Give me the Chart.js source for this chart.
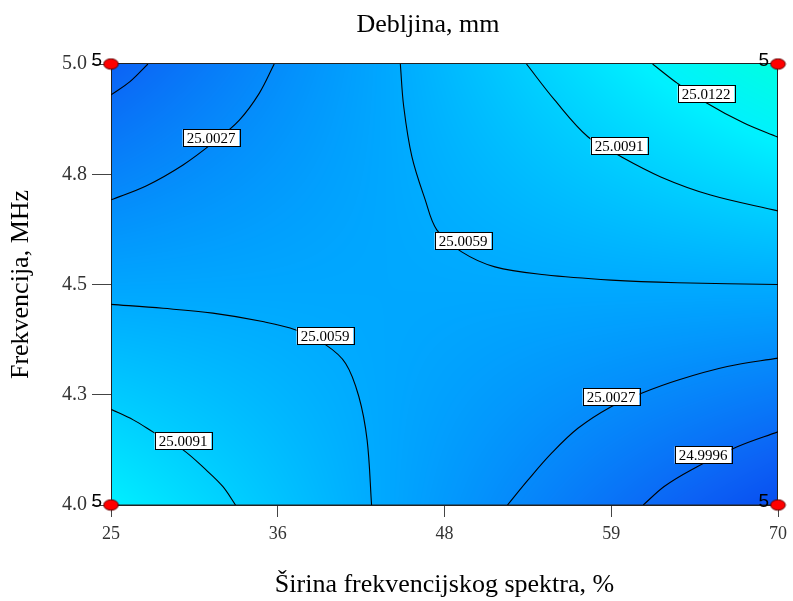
<!DOCTYPE html>
<html lang="hr">
<head>
<meta charset="utf-8" />
<title>Debljina, mm</title>
<script src="https://cdn.jsdelivr.net/npm/chart.js@4.4.1/dist/chart.umd.min.js"></script>
<style>
  html, body { margin: 0; padding: 0; background: #fff; }
</style>
</head>
<body>
<canvas id="myChart" width="793" height="601"></canvas>
<script>
// axis ticks
const xTicks = [25, 36.25, 47.5, 58.75, 70];
const xTickLabels = ['25', '36', '48', '59', '70'];
const yTicks = [4.0, 4.25, 4.5, 4.75, 5.0];
const yTickLabels = ['4.0', '4.3', '4.5', '4.8', '5.0'];

// design points (4 corners, 5 runs each)
const designX = [25, 70, 25, 70];
const designY = [4.0, 4.0, 5.0, 5.0];
const designRuns = [5, 5, 5, 5];

// predicted thickness at (25,4.0), (70,4.0), (25,5.0), (70,5.0)
const cornerValues = [25.0117, 24.9965, 24.9987, 25.0151];

// colour ramp for the surface
const rampValues = [24.9965, 24.9987, 25.0055, 25.0117, 25.0151];
const rampColors = [[8, 78, 240], [12, 98, 245], [0, 168, 255], [0, 240, 255], [0, 255, 225]];

// contour lines
const tl9996X = [25, 26.28, 27.49];
const tl9996Y = [4.930, 4.960, 5.0];
const up0027X = [25, 27.40, 29.86, 31.87, 33.66, 35.01, 36.01];
const up0027Y = [4.692, 4.724, 4.771, 4.821, 4.873, 4.934, 5.0];
const up0059X = [44.52, 44.75, 45.30, 46.20, 46.98, 48.66, 50.90, 54.26, 58.74, 63.22, 70];
const up0059Y = [5.0, 4.903, 4.790, 4.692, 4.624, 4.574, 4.540, 4.522, 4.510, 4.504, 4.500];
const up0091X = [53.03, 54.94, 57.17, 59.19, 62.09, 65.45, 70];
const up0091Y = [5.0, 4.918, 4.835, 4.794, 4.744, 4.703, 4.667];
const up0122X = [61.54, 63.22, 65.01, 67.70, 70];
const up0122Y = [5.0, 4.956, 4.915, 4.866, 4.834];
const lo0059X = [25, 28.51, 31.87, 35.23, 37.47, 39.49, 40.83, 41.72, 42.28, 42.58];
const lo0059Y = [4.455, 4.446, 4.435, 4.416, 4.397, 4.363, 4.321, 4.246, 4.147, 4.0];
const lo0091X = [25, 26.50, 27.96, 29.86, 31.43, 32.54, 33.40];
const lo0091Y = [4.217, 4.193, 4.163, 4.125, 4.079, 4.042, 4.0];
const lo0027X = [51.75, 53.14, 54.71, 56.50, 58.74, 60.75, 63.22, 66.58, 70];
const lo0027Y = [4.0, 4.057, 4.117, 4.174, 4.223, 4.253, 4.283, 4.314, 4.333];
const lo9996X = [60.91, 62.32, 64.11, 67.25, 70];
const lo9996Y = [4.0, 4.042, 4.079, 4.132, 4.166];

// contour labels
const labelText = ['25.0027', '25.0059', '25.0091', '25.0122', '25.0059', '25.0091', '25.0027', '24.9996'];
const labelX = [31.75, 48.78, 59.29, 65.13, 39.47, 29.84, 58.75, 64.93];
const labelY = [4.832, 4.598, 4.813, 4.933, 4.383, 4.145, 4.244, 4.113];

const serif = '"Liberation Serif", "Times New Roman", serif';

const contourLines = [
	[tl9996X, tl9996Y], [up0027X, up0027Y], [up0059X, up0059Y], [up0091X, up0091Y],
	[up0122X, up0122Y], [lo0059X, lo0059Y], [lo0091X, lo0091Y], [lo0027X, lo0027Y],
	[lo9996X, lo9996Y]
];

function rampColor(val) {
	if (val <= rampValues[0]) return rampColors[0];
	for (let i = 1; i < rampValues.length; i++) {
		if (val <= rampValues[i]) {
			const t = (val - rampValues[i - 1]) / (rampValues[i] - rampValues[i - 1]);
			const a = rampColors[i - 1], b = rampColors[i];
			return [a[0] + (b[0] - a[0]) * t, a[1] + (b[1] - a[1]) * t, a[2] + (b[2] - a[2]) * t];
		}
	}
	return rampColors[rampColors.length - 1];
}

// red ellipse used for the design points
function makeDot() {
	const c = document.createElement('canvas');
	c.width = 17; c.height = 13;
	const g = c.getContext('2d');
	g.beginPath();
	g.ellipse(8.5, 6.5, 7.3, 5.2, 0, 0, Math.PI * 2);
	g.fillStyle = '#ff0000';
	g.fill();
	g.lineWidth = 1;
	g.strokeStyle = '#5a0000';
	g.stroke();
	return c;
}

// fills the plot area with the response surface and draws the frame
const surfacePlugin = {
	id: 'surface',
	beforeDatasetsDraw(chart) {
		const {ctx, chartArea: a, scales} = chart;
		const w = Math.round(a.right - a.left), h = Math.round(a.bottom - a.top);
		const off = document.createElement('canvas');
		off.width = w; off.height = h;
		const octx = off.getContext('2d');
		const img = octx.createImageData(w, h);
		const x0 = scales.x.min, x1 = scales.x.max, y0 = scales.y.min, y1 = scales.y.max;
		for (let j = 0; j < h; j++) {
			const v = (scales.y.getValueForPixel(a.top + j + 0.5) - y0) / (y1 - y0);
			for (let i = 0; i < w; i++) {
				const u = (scales.x.getValueForPixel(a.left + i + 0.5) - x0) / (x1 - x0);
				const val = cornerValues[0] * (1 - u) * (1 - v) + cornerValues[1] * u * (1 - v) +
					cornerValues[2] * (1 - u) * v + cornerValues[3] * u * v;
				const c = rampColor(val);
				const k = (j * w + i) * 4;
				img.data[k] = c[0]; img.data[k + 1] = c[1]; img.data[k + 2] = c[2]; img.data[k + 3] = 255;
			}
		}
		octx.putImageData(img, 0, 0);
		ctx.save();
		ctx.drawImage(off, a.left, a.top);
		ctx.strokeStyle = '#222';
		ctx.lineWidth = 1;
		ctx.strokeRect(Math.round(a.left) + 0.5, Math.round(a.top) - 0.5, w - 1, h + 0.5);
		ctx.restore();
	}
};

// boxed contour values and run counts
const labelsPlugin = {
	id: 'labels',
	afterDatasetsDraw(chart) {
		const {ctx, scales} = chart;
		ctx.save();
		ctx.font = '15px ' + serif;
		ctx.textAlign = 'center';
		ctx.textBaseline = 'middle';
		labelText.forEach((t, i) => {
			const px = Math.round(scales.x.getPixelForValue(labelX[i]));
			const py = Math.round(scales.y.getPixelForValue(labelY[i]));
			const tw = ctx.measureText(t).width + 8;
			ctx.fillStyle = '#fff';
			ctx.fillRect(px - tw / 2, py - 8.5, tw, 17);
			ctx.strokeStyle = '#000';
			ctx.lineWidth = 1;
			ctx.strokeRect(Math.round(px - tw / 2) + 0.5, py - 8.5, Math.round(tw), 17);
			ctx.fillStyle = '#000';
			ctx.fillText(t, px, py + 1);
		});
		ctx.font = '19px "Liberation Sans", Arial, sans-serif';
		ctx.textAlign = 'right';
		ctx.textBaseline = 'alphabetic';
		ctx.fillStyle = '#000';
		designX.forEach((x, i) => {
			const px = scales.x.getPixelForValue(x);
			const py = scales.y.getPixelForValue(designY[i]);
			ctx.fillText(String(designRuns[i]), px - 9, py + 2);
		});
		ctx.restore();
	},
	afterDraw(chart) {
		const {ctx} = chart;
		ctx.save();
		ctx.font = '26px ' + serif;
		ctx.fillStyle = '#000';
		ctx.textAlign = 'center';
		ctx.textBaseline = 'middle';
		ctx.fillText('Debljina, mm', 428, 25);
		ctx.restore();
	}
};

const datasets = [{
	data: designX.map((x, i) => ({x: x, y: designY[i]})),
	pointStyle: makeDot(),
	pointRadius: 7,
	showLine: false,
	clip: false
}];
contourLines.forEach(([xs, ys]) => {
	datasets.push({
		data: xs.map((x, i) => ({x: x, y: ys[i]})),
		showLine: true,
		borderColor: '#000',
		borderWidth: 1.1,
		pointRadius: 0,
		tension: 0.35,
		fill: false
	});
});

const ctx = document.getElementById('myChart').getContext('2d');
const myChart = new Chart(ctx, {
	type: 'scatter',
	data: {datasets: datasets},
	plugins: [surfacePlugin, labelsPlugin],
	options: {
		responsive: false,
		animation: false,
		events: [],
		layout: {padding: {top: 64, right: 12, left: 0, bottom: 0}},
		plugins: {legend: {display: false}, tooltip: {enabled: false}, title: {display: false}},
		scales: {
			x: {
				type: 'linear', min: 25, max: 70,
				afterBuildTicks: s => { s.ticks = xTicks.map(v => ({value: v})); },
				afterFit: s => { s.height = 96; },
				ticks: {
					callback: (v, i) => xTickLabels[i],
					font: {family: serif, size: 18}, color: '#333', padding: 6, maxRotation: 0
				},
				grid: {drawOnChartArea: false, tickLength: 12, color: '#444'},
				border: {display: true, color: '#222'},
				title: {display: true, text: 'Širina frekvencijskog spektra, %', font: {family: serif, size: 26}, color: '#000', padding: {top: 0, bottom: 0}}
			},
			y: {
				type: 'linear', min: 4.0, max: 5.0,
				afterBuildTicks: s => { s.ticks = yTicks.map(v => ({value: v})); },
				afterFit: s => { s.width = 111; },
				ticks: {
					callback: (v, i) => yTickLabels[i],
					font: {family: serif, size: 20}, color: '#333', padding: 5
				},
				grid: {drawOnChartArea: false, tickLength: 19, color: '#444'},
				border: {display: true, color: '#222'},
				title: {display: true, text: 'Frekvencija, MHz', font: {family: serif, size: 26}, color: '#000', padding: {top: 6, bottom: 0}}
			}
		}
	}
});
</script>
</body>
</html>
